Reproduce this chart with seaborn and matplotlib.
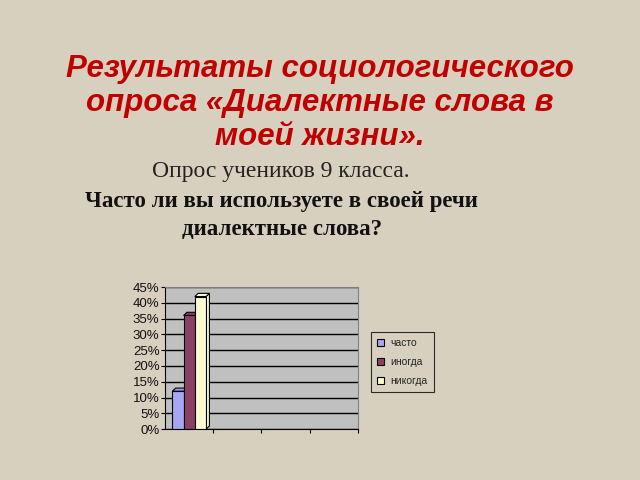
import numpy as np
import pandas as pd
import matplotlib
matplotlib.use("Agg")
import matplotlib.pyplot as plt
from matplotlib.patches import Polygon
import seaborn as sns

# data
answers = ["часто", "иногда", "никогда"]
shares = [12, 36, 42]
colors = ["#9999FF", "#993366", "#FFFFCC"]
y_ticks = [0, 5, 10, 15, 20, 25, 30, 35, 40, 45]

title = "Результаты социологического\nопроса «Диалектные слова в\nмоей жизни»."
subtitle = "Опрос учеников 9 класса."
question = "Часто ли вы используете в своей речи\nдиалектные слова?"

sns.set_style("white")
plt.rcParams["font.family"] = ["Liberation Sans", "DejaVu Sans"]

bg = "#D8D0BF"
fig = plt.figure(figsize=(6.4, 4.8), dpi=100, facecolor=bg)

fig.text(0.5, 0.785, title, ha="center", va="center", color="#C00000",
         fontsize=22.5, fontweight="bold", fontstyle="italic",
         linespacing=1.18)
fig.text(0.438, 0.643, subtitle, ha="center", va="center", color="#222222",
         family=["Liberation Serif"], fontsize=17)
fig.text(0.44, 0.551, question, ha="center", va="center", color="#111111",
         family=["Liberation Serif"], fontsize=16.5, fontweight="bold",
         linespacing=1.4)

ax = fig.add_axes([0.258, 0.106, 0.301, 0.296])
df = pd.DataFrame({"group": [""] * len(answers), "answer": answers, "share": shares})
sns.barplot(data=df, x="group", y="share", hue="answer", hue_order=answers,
            palette=colors, width=0.7, edgecolor="black", linewidth=0.8,
            ax=ax, zorder=3)

ax.set_facecolor("#C0C0C0")
ax.set_xlim(-0.5, 3.5)
ax.set_ylim(0, 45)
ax.set_yticks(y_ticks)
ax.set_yticklabels([f"{t}%" for t in y_ticks], fontsize=9.5, color="#111111")
ax.set_xticks([0.5, 1.5, 2.5, 3.5])
ax.set_xticklabels([])
ax.tick_params(axis="x", direction="out", length=3, color="black", bottom=True)
ax.tick_params(axis="y", direction="out", length=3, color="black", left=True, pad=1)
ax.grid(axis="y", color="black", linewidth=1, zorder=0)
ax.set_axisbelow(True)
ax.set_xlabel("")
ax.set_ylabel("")
for side in ["top", "right"]:
    ax.spines[side].set_color("#808080")
for side in ["left", "bottom"]:
    ax.spines[side].set_color("black")

# fake 3D depth on the bars
dx, dy = 0.07, 1.0
for patch, col in zip(ax.patches[:len(answers)], colors):
    x0, w, h = patch.get_x(), patch.get_width(), patch.get_height()
    side = Polygon([[x0 + w, 0], [x0 + w + dx, dy], [x0 + w + dx, h + dy], [x0 + w, h]],
                   closed=True, facecolor=col, edgecolor="black", linewidth=0.8, zorder=2.9)
    top = Polygon([[x0, h], [x0 + dx, h + dy], [x0 + w + dx, h + dy], [x0 + w, h]],
                  closed=True, facecolor=col, edgecolor="black", linewidth=0.8, zorder=2.9)
    ax.add_patch(side)
    ax.add_patch(top)

leg = ax.legend(loc="center left", bbox_to_anchor=(1.05, 0.47), fontsize=7.5,
                frameon=True, fancybox=False, edgecolor="black",
                handlelength=0.7, handleheight=0.7, labelspacing=0.85,
                borderpad=0.6, handletextpad=0.6, borderaxespad=0.3)
leg.get_frame().set_facecolor(bg)
leg.get_frame().set_linewidth(0.8)

fig.savefig("out.png", dpi=100, facecolor=bg)
